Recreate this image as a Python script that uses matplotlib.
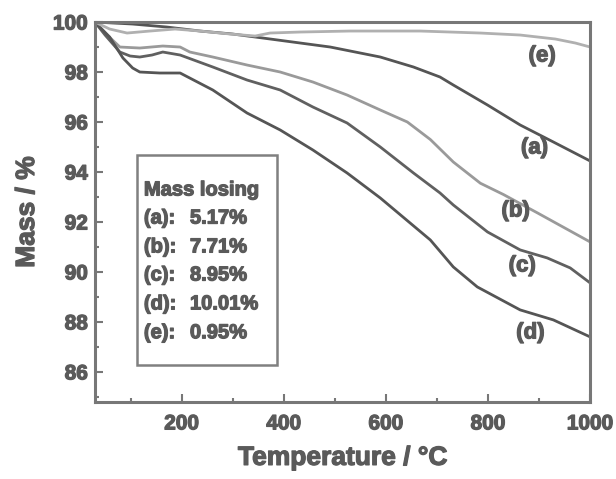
import numpy as np
import matplotlib.pyplot as plt
import matplotlib.patheffects as pe
from matplotlib.patches import Rectangle
from matplotlib.ticker import MultipleLocator

plt.rcParams['font.family'] = ['Liberation Sans', 'DejaVu Sans']
plt.rcParams['font.weight'] = 'bold'

# TG curves, temperature (°C) vs remaining mass (%)
t_a = [30, 104, 171, 236, 300, 359, 491, 589, 654, 706, 732, 799, 863, 928, 1000]
m_a = [100, 99.92, 99.8, 99.64, 99.52, 99.36, 99.0, 98.6, 98.2, 97.8, 97.48, 96.68, 95.88, 95.2, 94.44]

t_b = [30, 50, 79, 118, 163, 197, 216, 261, 328, 393, 457, 524, 589, 642, 687, 732, 785, 830, 897, 1000]
m_b = [100, 99.56, 99.0, 98.96, 99.04, 99.0, 98.8, 98.6, 98.28, 98.0, 97.6, 97.08, 96.48, 96.0, 95.3,
       94.4, 93.55, 93.1, 92.36, 91.2]

t_c = [30, 50, 79, 99, 118, 142, 163, 197, 261, 328, 393, 457, 524, 589, 654, 706, 732, 799, 863, 916,
       961, 1000]
m_c = [100, 99.48, 98.8, 98.64, 98.6, 98.68, 98.8, 98.68, 98.2, 97.68, 97.28, 96.6, 95.96, 95.0, 93.96,
       93.16, 92.68, 91.6, 90.88, 90.56, 90.16, 89.56]

t_d = [30, 59, 85, 104, 118, 157, 197, 261, 328, 393, 457, 524, 589, 687, 732, 779, 863, 928, 1000]
m_d = [100, 99.4, 98.56, 98.16, 98.0, 97.96, 97.96, 97.28, 96.36, 95.68, 94.88, 93.96, 92.96, 91.28,
       90.2, 89.4, 88.48, 88.08, 87.4]

t_e = [30, 59, 93, 138, 187, 236, 295, 344, 373, 432, 530, 667, 785, 863, 932, 971, 1000]
m_e = [100, 99.72, 99.56, 99.64, 99.72, 99.64, 99.52, 99.44, 99.56, 99.6, 99.64, 99.64, 99.56, 99.48,
       99.32, 99.16, 99.0]

labels = ['(a)', '(b)', '(c)', '(d)', '(e)']
losses = ['5.17%', '7.71%', '8.95%', '10.01%', '0.95%']
label_t = [891, 854, 867, 883, 906]
label_m = [94.96, 92.44, 90.24, 87.56, 98.64]

curves = [(t_a, m_a), (t_b, m_b), (t_c, m_c), (t_d, m_d), (t_e, m_e)]
colors = ['#555555', '#9a9a9a', '#606060', '#555555', '#b0b0b0']
txt = '#5a5a5a'
heavy = [pe.withStroke(linewidth=0.9, foreground=txt)]

fig = plt.figure(figsize=(6.16, 4.79), dpi=100)
ax = fig.add_axes([0.154, 0.161, 0.804, 0.793])

for (t, m), c in zip(curves, colors):
    ax.plot(t, m, color=c, lw=2.0, solid_capstyle='round')

for lab, x, y in zip(labels, label_t, label_m):
    ax.text(x, y, lab, color=txt, fontsize=16, fontweight='bold', ha='center', va='center',
            path_effects=heavy)

# box listing the mass losses
ax.add_patch(Rectangle((0.085, 0.097), 0.283, 0.553, transform=ax.transAxes,
                       fill=False, edgecolor='#808080', lw=1.8))
ax.text(0.099, 0.558, 'Mass losing', transform=ax.transAxes, color=txt,
        fontsize=14.5, fontweight='bold', va='center', path_effects=heavy)
rows_y = [0.484, 0.408, 0.334, 0.258, 0.182]
for lab, loss, y in zip(labels, losses, rows_y):
    ax.text(0.099, y, lab + ':', transform=ax.transAxes, color=txt,
            fontsize=14.5, fontweight='bold', va='center', path_effects=heavy)
    ax.text(0.192, y, loss, transform=ax.transAxes, color=txt,
            fontsize=14.5, fontweight='bold', va='center', path_effects=heavy)

ax.set_xlim(30, 1000)
ax.set_ylim(84.8, 100)
ax.xaxis.set_minor_locator(MultipleLocator(100))
ax.yaxis.set_minor_locator(MultipleLocator(1))
ax.set_xticks([200, 400, 600, 800, 1000])
ax.set_yticks([86, 88, 90, 92, 94, 96, 98, 100])
ax.tick_params(which='both', direction='in', color='#777777', width=1.5, labelcolor=txt,
               labelsize=15)
ax.tick_params(which='major', length=6)
ax.tick_params(axis='x', which='major', pad=9)
ax.tick_params(axis='y', which='major', pad=5)
ax.tick_params(which='minor', length=3)
for lbl in ax.get_xticklabels() + ax.get_yticklabels():
    lbl.set_fontweight('bold')
    lbl.set_path_effects(heavy)

for s in ax.spines.values():
    s.set_color('#777777')
    s.set_linewidth(2.2)

ax.set_xlabel('Temperature / °C', fontsize=19, fontweight='bold', color=txt, labelpad=9,
              path_effects=heavy)
ax.set_ylabel('Mass / %', fontsize=19, fontweight='bold', color=txt, labelpad=10,
              path_effects=heavy)

fig.savefig('out.png', dpi=100)
